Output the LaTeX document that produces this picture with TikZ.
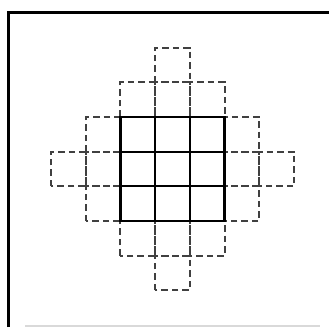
\documentclass[tikz,border=0pt]{standalone}
\usepackage{tikz}

\begin{document}
\begin{tikzpicture}[x=1pt, y=1pt,
    solidcell/.style={line width=2.2pt, black},
    dashcell/.style={line width=2pt, black!75, dash pattern=on 6.5pt off 4pt},
    framerule/.style={line width=2.2pt, black}]
  \useasboundingbox (0,0) rectangle (329,327);
  % frame
  \draw[framerule] (8.5,0) -- (8.5,314.5) -- (329,314.5);
  \draw[black!15, line width=1.2pt] (25,1) -- (320,1);
  \begin{scope}[shift={(172.5,158)}, x=34.7pt, y=34.7pt]
    \foreach \i in {-3,...,3} {
      \foreach \j in {-3,...,3} {
        \pgfmathtruncatemacro\d{abs(\i)+abs(\j)}
        \ifnum\d<4
          \draw[dashcell] ({\i-0.5},{\j-0.5}) rectangle ++(1,1);
        \fi
      }
    }
    \foreach \i in {-1,0,1} {
      \foreach \j in {-1,0,1} {
        \draw[solidcell] ({\i-0.5},{\j-0.5}) rectangle ++(1,1);
      }
    }
  \end{scope}
\end{tikzpicture}
\end{document}
